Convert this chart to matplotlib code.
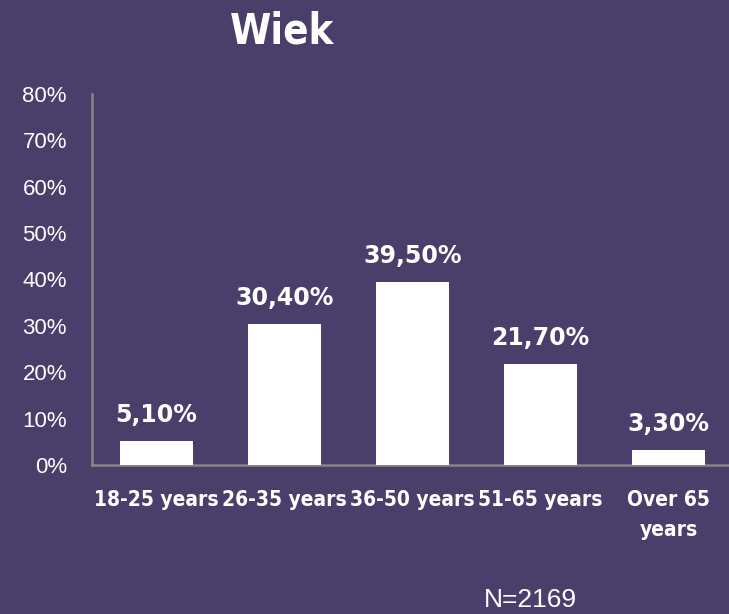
import matplotlib.pyplot as plt
import numpy as np

categories = ["18-25 years", "26-35 years", "36-50 years", "51-65 years", "Over 65\nyears"]
values = [5.1, 30.4, 39.5, 21.7, 3.3]
value_labels = ["5,10%", "30,40%", "39,50%", "21,70%", "3,30%"]
yticks = [0, 10, 20, 30, 40, 50, 60, 70, 80]

BG = "#4a3e6a"
AXIS = "#878787"


def plot_chart():
    fig = plt.figure(figsize=(7.29, 6.14), dpi=100, facecolor=BG)
    ax = fig.add_axes([0.1262, 0.2427, 0.879, 0.6042])
    ax.set_facecolor(BG)

    x = np.arange(len(categories))
    ax.bar(x, values, width=0.57, color="white", zorder=3)

    for xi, v, lab in zip(x, values, value_labels):
        ax.annotate(lab, (xi, v), xytext=(0, 10), textcoords="offset points",
                    ha="center", va="bottom", color="white",
                    fontsize=17, fontweight="bold", family="DejaVu Sans")

    ax.set_xlim(-0.5, 4.5)
    ax.set_ylim(0, 80)
    ax.set_yticks(yticks)
    ax.set_yticklabels([f"{t}%" for t in yticks], color="white",
                       fontsize=16, family="Liberation Sans")
    ax.set_xticks(x)
    ax.set_xticklabels(categories, color="white", fontsize=15,
                       fontweight="bold", family="DejaVu Sans",
                       fontstretch="condensed", linespacing=1.6)
    ax.tick_params(axis="both", length=0)
    ax.tick_params(axis="y", pad=18)
    ax.tick_params(axis="x", pad=18)

    for side in ["top", "right"]:
        ax.spines[side].set_visible(False)
    ax.spines["left"].set_color(AXIS)
    ax.spines["bottom"].set_color(AXIS)
    ax.spines["left"].set_linewidth(1.8)
    ax.spines["bottom"].set_linewidth(1.8)

    fig.text(282 / 729, 1 - 31 / 614, "Wiek", color="white", fontsize=30,
             fontweight="bold", family="DejaVu Sans", fontstretch="condensed",
             ha="center", va="center")
    fig.text(530 / 729, 1 - 600 / 614, "N=2169", color="white", fontsize=19,
             family="Liberation Sans", ha="center", va="center")

    fig.savefig("out.png", dpi=100, facecolor=BG)


if __name__ == '__main__':
    plot_chart()
